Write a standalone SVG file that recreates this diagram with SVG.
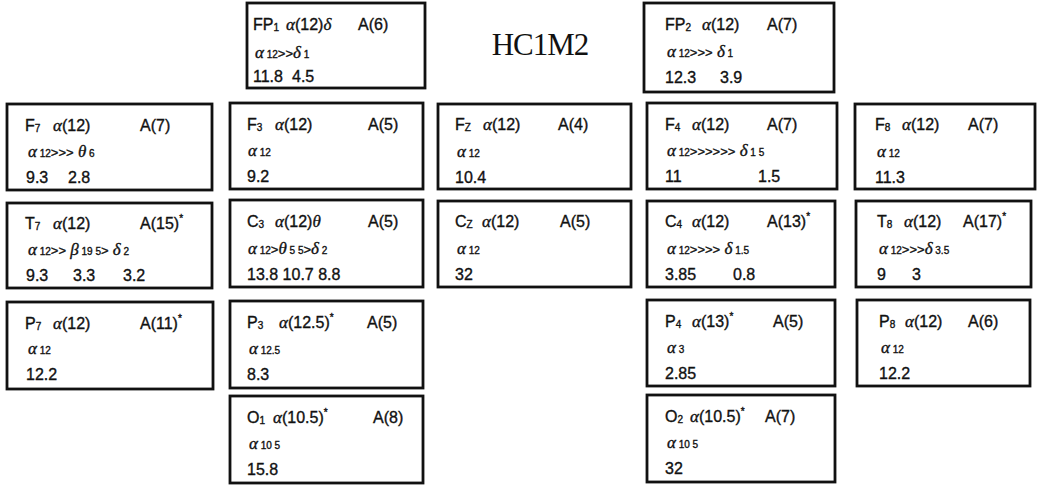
<svg xmlns="http://www.w3.org/2000/svg" width="1040" height="488" viewBox="0 0 1040 488">
<style>
.b{fill:#fff;stroke:#111;stroke-width:2.8}
.t{font-family:"Liberation Sans",Arial,sans-serif;font-size:16px;fill:#111;stroke:#111;stroke-width:0.35}
.g{font-family:"Liberation Serif","Times New Roman",serif;font-style:italic;font-size:17px}
.s{font-size:10px}
.l2{font-size:13px}
.ttl{font-family:"Liberation Serif","Times New Roman",serif;font-size:31px;fill:#111;letter-spacing:-1px}
</style>
<rect width="1040" height="488" fill="#fff"/>
<text class="ttl" x="540" y="55" text-anchor="middle">HC1M2</text>

<g id="FP1">
<rect class="b" x="247" y="3" width="178" height="85"/>
<text class="t" x="253" y="30">FP<tspan class="s" dy="1">1</tspan></text>
<text class="t" x="286" y="30"><tspan class="g">α</tspan>(12)<tspan class="g">δ</tspan></text>
<text class="t" x="358" y="30">A(6)</text>
<text class="t l2" x="255" y="58"><tspan class="g">α</tspan><tspan class="s"> 12</tspan>&gt;&gt;<tspan class="g">δ</tspan><tspan class="s"> 1</tspan></text>
<text class="t" x="253" y="82">11.8</text><text class="t" x="292" y="82">4.5</text>
</g>

<g id="FP2">
<rect class="b" x="644" y="3" width="190" height="89"/>
<text class="t" x="665" y="30">FP<tspan class="s" dy="1">2</tspan></text>
<text class="t" x="702" y="30"><tspan class="g">α</tspan>(12)</text>
<text class="t" x="767" y="30">A(7)</text>
<text class="t l2" x="667" y="57"><tspan class="g">α</tspan><tspan class="s"> 12</tspan>&gt;&gt;&gt;<tspan class="g"> δ</tspan><tspan class="s"> 1</tspan></text>
<text class="t" x="665" y="83">12.3</text><text class="t" x="720" y="83">3.9</text>
</g>

<g id="F7">
<rect class="b" x="7" y="104" width="205" height="86"/>
<text class="t" x="25" y="131">F<tspan class="s" dy="1">7</tspan></text>
<text class="t" x="53" y="131"><tspan class="g">α</tspan>(12)</text>
<text class="t" x="140" y="131">A(7)</text>
<text class="t l2" x="28" y="157"><tspan class="g">α</tspan><tspan class="s"> 12</tspan>&gt;&gt;&gt;<tspan class="g"> θ</tspan><tspan class="s"> 6</tspan></text>
<text class="t" x="26" y="183">9.3</text><text class="t" x="68" y="183">2.8</text>
</g>

<g id="F3">
<rect class="b" x="230" y="103" width="193" height="86"/>
<text class="t" x="247" y="130">F<tspan class="s" dy="1">3</tspan></text>
<text class="t" x="275" y="130"><tspan class="g">α</tspan>(12)</text>
<text class="t" x="368" y="130">A(5)</text>
<text class="t l2" x="248" y="156"><tspan class="g">α</tspan><tspan class="s"> 12</tspan></text>
<text class="t" x="247" y="182">9.2</text>
</g>

<g id="Fz">
<rect class="b" x="438" y="104" width="193" height="85"/>
<text class="t" x="455" y="130">F<tspan class="s" dy="1">Z</tspan></text>
<text class="t" x="483" y="130"><tspan class="g">α</tspan>(12)</text>
<text class="t" x="558" y="130">A(4)</text>
<text class="t l2" x="457" y="157"><tspan class="g">α</tspan><tspan class="s"> 12</tspan></text>
<text class="t" x="455" y="183">10.4</text>
</g>

<g id="F4">
<rect class="b" x="647" y="103" width="190" height="86"/>
<text class="t" x="665" y="130">F<tspan class="s" dy="1">4</tspan></text>
<text class="t" x="692" y="130"><tspan class="g">α</tspan>(12)</text>
<text class="t" x="767" y="130">A(7)</text>
<text class="t l2" x="667" y="156"><tspan class="g">α</tspan><tspan class="s"> 12</tspan>&gt;&gt;&gt;&gt;&gt;&gt;<tspan class="g"> δ</tspan><tspan class="s"> 1 5</tspan></text>
<text class="t" x="665" y="182">11</text><text class="t" x="758" y="182">1.5</text>
</g>

<g id="F8">
<rect class="b" x="855" y="104" width="180" height="85"/>
<text class="t" x="875" y="130">F<tspan class="s" dy="1">8</tspan></text>
<text class="t" x="902" y="130"><tspan class="g">α</tspan>(12)</text>
<text class="t" x="968" y="130">A(7)</text>
<text class="t l2" x="877" y="157"><tspan class="g">α</tspan><tspan class="s"> 12</tspan></text>
<text class="t" x="875" y="183">11.3</text>
</g>

<g id="T7">
<rect class="b" x="7" y="203" width="205" height="85"/>
<text class="t" x="25" y="229">T<tspan class="s" dy="1">7</tspan></text>
<text class="t" x="53" y="229"><tspan class="g">α</tspan>(12)</text>
<text class="t" x="140" y="229">A(15)<tspan class="s" dy="-7">*</tspan></text>
<text class="t l2" x="28" y="255"><tspan class="g">α</tspan><tspan class="s"> 12</tspan>&gt;&gt;<tspan class="g"> β</tspan><tspan class="s"> 19 5</tspan>&gt;<tspan class="g"> δ</tspan><tspan class="s"> 2</tspan></text>
<text class="t" x="26" y="281">9.3</text><text class="t" x="73" y="281">3.3</text><text class="t" x="123" y="281">3.2</text>
</g>

<g id="C3">
<rect class="b" x="230" y="200" width="193" height="87"/>
<text class="t" x="247" y="227">C<tspan class="s" dy="1">3</tspan></text>
<text class="t" x="275" y="227"><tspan class="g">α</tspan>(12)<tspan class="g">θ</tspan></text>
<text class="t" x="368" y="227">A(5)</text>
<text class="t l2" x="248" y="254"><tspan class="g">α</tspan><tspan class="s"> 12</tspan>&gt;<tspan class="g">θ</tspan><tspan class="s"> 5 5</tspan>&gt;<tspan class="g">δ</tspan><tspan class="s"> 2</tspan></text>
<text class="t" x="247" y="280">13.8 10.7 8.8</text>
</g>

<g id="Cz">
<rect class="b" x="438" y="201" width="193" height="86"/>
<text class="t" x="455" y="227">C<tspan class="s" dy="1">Z</tspan></text>
<text class="t" x="482" y="227"><tspan class="g">α</tspan>(12)</text>
<text class="t" x="560" y="227">A(5)</text>
<text class="t l2" x="457" y="254"><tspan class="g">α</tspan><tspan class="s"> 12</tspan></text>
<text class="t" x="455" y="280">32</text>
</g>

<g id="C4">
<rect class="b" x="647" y="201" width="188" height="86"/>
<text class="t" x="665" y="227">C<tspan class="s" dy="1">4</tspan></text>
<text class="t" x="692" y="227"><tspan class="g">α</tspan>(12)</text>
<text class="t" x="767" y="227">A(13)<tspan class="s" dy="-7">*</tspan></text>
<text class="t l2" x="667" y="254"><tspan class="g">α</tspan><tspan class="s"> 12</tspan>&gt;&gt;&gt;&gt;<tspan class="g"> δ</tspan><tspan class="s"> 1.5</tspan></text>
<text class="t" x="665" y="280">3.85</text><text class="t" x="733" y="280">0.8</text>
</g>

<g id="T8">
<rect class="b" x="856" y="201" width="175" height="86"/>
<text class="t" x="877" y="227">T<tspan class="s" dy="1">8</tspan></text>
<text class="t" x="904" y="227"><tspan class="g">α</tspan>(12)</text>
<text class="t" x="963" y="227">A(17)<tspan class="s" dy="-7">*</tspan></text>
<text class="t l2" x="879" y="254"><tspan class="g">α</tspan><tspan class="s"> 12</tspan>&gt;&gt;&gt;<tspan class="g">δ</tspan><tspan class="s"> 3.5</tspan></text>
<text class="t" x="877" y="280">9</text><text class="t" x="912" y="280">3</text>
</g>

<g id="P7">
<rect class="b" x="7" y="302" width="206" height="87"/>
<text class="t" x="25" y="329">P<tspan class="s" dy="1">7</tspan></text>
<text class="t" x="53" y="329"><tspan class="g">α</tspan>(12)</text>
<text class="t" x="140" y="329">A(11)<tspan class="s" dy="-7">*</tspan></text>
<text class="t l2" x="28" y="354"><tspan class="g">α</tspan><tspan class="s"> 12</tspan></text>
<text class="t" x="26" y="380">12.2</text>
</g>

<g id="P3">
<rect class="b" x="230" y="301" width="193" height="87"/>
<text class="t" x="247" y="328">P<tspan class="s" dy="1">3</tspan></text>
<text class="t" x="279" y="328"><tspan class="g">α</tspan>(12.5)<tspan class="s" dy="-7">*</tspan></text>
<text class="t" x="367" y="328">A(5)</text>
<text class="t l2" x="249" y="354"><tspan class="g">α</tspan><tspan class="s"> 12.5</tspan></text>
<text class="t" x="247" y="380">8.3</text>
</g>

<g id="P4">
<rect class="b" x="647" y="300" width="188" height="86"/>
<text class="t" x="665" y="327">P<tspan class="s" dy="1">4</tspan></text>
<text class="t" x="692" y="327"><tspan class="g">α</tspan>(13)<tspan class="s" dy="-7">*</tspan></text>
<text class="t" x="773" y="327">A(5)</text>
<text class="t l2" x="667" y="353"><tspan class="g">α</tspan><tspan class="s"> 3</tspan></text>
<text class="t" x="665" y="379">2.85</text>
</g>

<g id="P8">
<rect class="b" x="857" y="300" width="173" height="86"/>
<text class="t" x="879" y="327">P<tspan class="s" dy="1">8</tspan></text>
<text class="t" x="905" y="327"><tspan class="g">α</tspan>(12)</text>
<text class="t" x="968" y="327">A(6)</text>
<text class="t l2" x="881" y="353"><tspan class="g">α</tspan><tspan class="s"> 12</tspan></text>
<text class="t" x="879" y="379">12.2</text>
</g>

<g id="O1">
<rect class="b" x="230" y="396" width="193" height="87"/>
<text class="t" x="247" y="423">O<tspan class="s" dy="1">1</tspan></text>
<text class="t" x="273" y="423"><tspan class="g">α</tspan>(10.5)<tspan class="s" dy="-7">*</tspan></text>
<text class="t" x="373" y="423">A(8)</text>
<text class="t l2" x="249" y="449"><tspan class="g">α</tspan><tspan class="s"> 10 5</tspan></text>
<text class="t" x="247" y="475">15.8</text>
</g>

<g id="O2">
<rect class="b" x="647" y="395" width="188" height="87"/>
<text class="t" x="665" y="422">O<tspan class="s" dy="1">2</tspan></text>
<text class="t" x="690" y="422"><tspan class="g">α</tspan>(10.5)<tspan class="s" dy="-7">*</tspan></text>
<text class="t" x="765" y="422">A(7)</text>
<text class="t l2" x="667" y="448"><tspan class="g">α</tspan><tspan class="s"> 10 5</tspan></text>
<text class="t" x="665" y="474">32</text>
</g>
</svg>
